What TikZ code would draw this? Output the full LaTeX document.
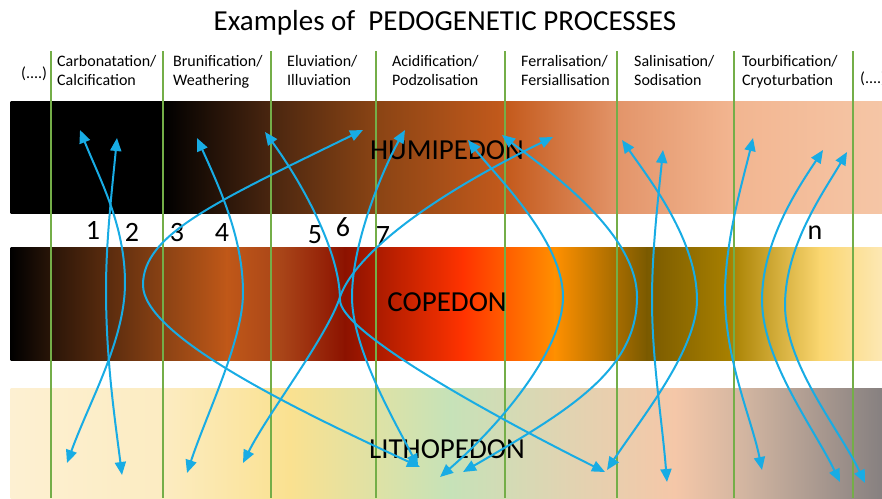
\documentclass[tikz,border=0pt]{standalone}
\usepackage{fontspec}
\setmainfont{Carlito}
\usetikzlibrary{arrows.meta}
\definecolor{fleche}{RGB}{24,172,228}
\definecolor{limite}{RGB}{116,174,72}

\begin{document}
\begin{tikzpicture}[
    x=1pt, y=-1pt,
    limit/.style={draw=limite, line width=1.6pt},
    process/.style={draw=fleche, line width=2pt,
      {Triangle[length=13pt,width=11pt]}-{Triangle[length=13pt,width=11pt]}},
    horizon/.style={font=\fontsize{29}{32}\selectfont, inner sep=0pt},
    number/.style={font=\fontsize{28}{30}\selectfont, inner sep=0pt},
    column/.style={font=\fontsize{16}{19}\selectfont, align=left, anchor=base west, inner sep=0pt}
    ]
   \useasboundingbox (0,0) rectangle (882,498);

   % horizons
   \foreach \xa/\xb/\ca/\cb in {11/163/black/black, 163/271/black/{rgb,255:red,74;green,38;blue,16},
        271/376/{rgb,255:red,74;green,38;blue,16}/{rgb,255:red,138;green,68;blue,20},
        376/506/{rgb,255:red,138;green,68;blue,20}/{rgb,255:red,196;green,90;blue,28},
        506/619/{rgb,255:red,196;green,90;blue,28}/{rgb,255:red,227;green,149;blue,106},
        619/731/{rgb,255:red,227;green,149;blue,106}/{rgb,255:red,242;green,181;blue,144},
        731/882/{rgb,255:red,242;green,181;blue,144}/{rgb,255:red,245;green,198;blue,166}}
      \fill[left color=\ca, right color=\cb] (\xa-0.5,101) rectangle (\xb+0.5,213);
   \foreach \xa/\xb/\ca/\cb in {11/51/black/{rgb,255:red,42;green,21;blue,8},
        51/163/{rgb,255:red,42;green,21;blue,8}/{rgb,255:red,138;green,66;blue,20},
        163/227/{rgb,255:red,138;green,66;blue,20}/{rgb,255:red,192;green,88;blue,24},
        227/283/{rgb,255:red,192;green,88;blue,24}/{rgb,255:red,168;green,68;blue,24},
        283/345/{rgb,255:red,168;green,68;blue,24}/{rgb,255:red,140;green,18;blue,0},
        345/463/{rgb,255:red,140;green,18;blue,0}/{rgb,255:red,255;green,51;blue,0},
        463/555/{rgb,255:red,255;green,51;blue,0}/{rgb,255:red,255;green,144;blue,0},
        555/647/{rgb,255:red,255;green,144;blue,0}/{rgb,255:red,122;green,90;blue,0},
        647/730/{rgb,255:red,122;green,90;blue,0}/{rgb,255:red,168;green,128;blue,0},
        730/820/{rgb,255:red,168;green,128;blue,0}/{rgb,255:red,250;green,214;blue,112},
        820/882/{rgb,255:red,250;green,214;blue,112}/{rgb,255:red,253;green,232;blue,180}}
      \fill[left color=\ca, right color=\cb] (\xa-0.5,247) rectangle (\xb+0.5,360);
   \foreach \xa/\xb/\ca/\cb in {11/163/{rgb,255:red,253;green,240;blue,210}/{rgb,255:red,252;green,236;blue,194},
        163/290/{rgb,255:red,252;green,236;blue,194}/{rgb,255:red,250;green,225;blue,144},
        290/450/{rgb,255:red,250;green,225;blue,144}/{rgb,255:red,198;green,226;blue,184},
        450/562/{rgb,255:red,198;green,226;blue,184}/{rgb,255:red,224;green,212;blue,178},
        562/675/{rgb,255:red,224;green,212;blue,178}/{rgb,255:red,245;green,199;blue,168},
        675/748/{rgb,255:red,245;green,199;blue,168}/{rgb,255:red,208;green,180;blue,160},
        748/882/{rgb,255:red,208;green,180;blue,160}/{rgb,255:red,134;green,128;blue,128}}
      \fill[left color=\ca, right color=\cb] (\xa-0.5,388) rectangle (\xb+0.5,498);

   % process limits
   \foreach \x in {51,163,271,376,505,617,734,853}
      \draw[limit] (\x,51) -- (\x,498);

   \node[font=\fontsize{29}{32}\selectfont, anchor=base] (title) at (445,30) {Examples of~\ PEDOGENETIC PROCESSES};

   \node[column] (dotsl) at (21,78) {(....)};
   \node[column] (carbo) at (57,85) {Carbonatation/\\Calcification};
   \node[column] (bruni) at (173,85) {Brunification/\\Weathering};
   \node[column] (eluvi) at (287,85) {Eluviation/\\Illuviation};
   \node[column] (acidi) at (392,85) {Acidification/\\Podzolisation};
   \node[column] (ferra) at (521,85) {Ferralisation/\\Fersiallisation};
   \node[column] (salin) at (634,85) {Salinisation/\\Sodisation};
   \node[column] (tourb) at (742,85) {Tourbification/\\Cryoturbation};
   \node[column] (dotsr) at (860,83) {(....)};

   \node[horizon] (humi) at (447,150) {HUMIPEDON};
   \node[horizon] (cope) at (447,302) {COPEDON};
   \node[horizon] (litho) at (447,449) {LITHOPEDON};

   \node[number] (p1) at (93,230) {1};
   \node[number] (p2) at (132,232) {2};
   \node[number] (p3) at (177,233) {3};
   \node[number] (p4) at (222,233) {4};
   \node[number] (p5) at (315,235) {5};
   \node[number] (p6) at (343,227) {6};
   \node[number] (p7) at (383,236) {7};
   \node[number] (pn) at (815,233) {n};

   % ends of the processes
   \coordinate (t1) at (80,130);   \coordinate (b1) at (67,463);
   \coordinate (t2) at (117,138);  \coordinate (b2) at (122,475);
   \coordinate (t3) at (363,130);  \coordinate (b3) at (420,467);
   \coordinate (t4) at (197,138);  \coordinate (b4) at (187,473);
   \coordinate (t5) at (265,132);  \coordinate (b5) at (605,472);
   \coordinate (t6) at (405,130);  \coordinate (b6) at (418,467);
   \coordinate (t7) at (553,137);  \coordinate (b7) at (243,463);
   \coordinate (tfa) at (468,140); \coordinate (bfa) at (440,477);
   \coordinate (tfb) at (502,135); \coordinate (bfb) at (463,472);
   \coordinate (tsa) at (622,140); \coordinate (bsa) at (607,470);
   \coordinate (tsb) at (663,150); \coordinate (bsb) at (667,482);
   \coordinate (tta) at (753,138); \coordinate (bta) at (762,470);
   \coordinate (ttb) at (823,150); \coordinate (btb) at (840,482);
   \coordinate (ttc) at (847,152); \coordinate (btc) at (865,483);

   \draw[process] (t1) .. controls (100,180) and (125,225) .. (125,283) .. controls (125,340) and (90,400) .. (b1);
   \draw[process] (t2) .. controls (112,190) and (106,240) .. (106,290) .. controls (106,360) and (115,420) .. (b2);
   \draw[process] (t3) .. controls (213,203) and (143,235) .. (143,285) .. controls (143,335) and (290,407) .. (b3);
   \draw[process] (t4) .. controls (222,193) and (243,240) .. (243,293) .. controls (243,340) and (207,413) .. (b4);
   \draw[process] (t5) .. controls (300,180) and (340,250) .. (340,300) .. controls (340,330) and (475,407) .. (b5);
   \draw[process] (t6) .. controls (385,165) and (352,240) .. (352,297) .. controls (352,350) and (398,427) .. (b6);
   \draw[process] (t7) .. controls (400,212) and (350,267) .. (340,297) .. controls (327,337) and (268,413) .. (b7);
   \draw[process] (tfa) .. controls (495,175) and (563,240) .. (563,297) .. controls (563,350) and (500,425) .. (bfa);
   \draw[process] (tfb) .. controls (540,165) and (637,230) .. (637,297) .. controls (637,370) and (570,410) .. (bfb);
   \draw[process] (tsa) .. controls (650,180) and (697,240) .. (697,300) .. controls (697,350) and (640,420) .. (bsa);
   \draw[process] (tsb) .. controls (658,200) and (652,250) .. (652,300) .. controls (652,360) and (662,420) .. (bsb);
   \draw[process] (tta) .. controls (743,180) and (725,240) .. (725,295) .. controls (725,360) and (752,420) .. (bta);
   \draw[process] (ttb) .. controls (800,185) and (762,240) .. (762,300) .. controls (762,360) and (815,430) .. (btb);
   \draw[process] (ttc) .. controls (825,190) and (785,245) .. (785,305) .. controls (785,365) and (840,430) .. (btc);
\end{tikzpicture}
\end{document}
